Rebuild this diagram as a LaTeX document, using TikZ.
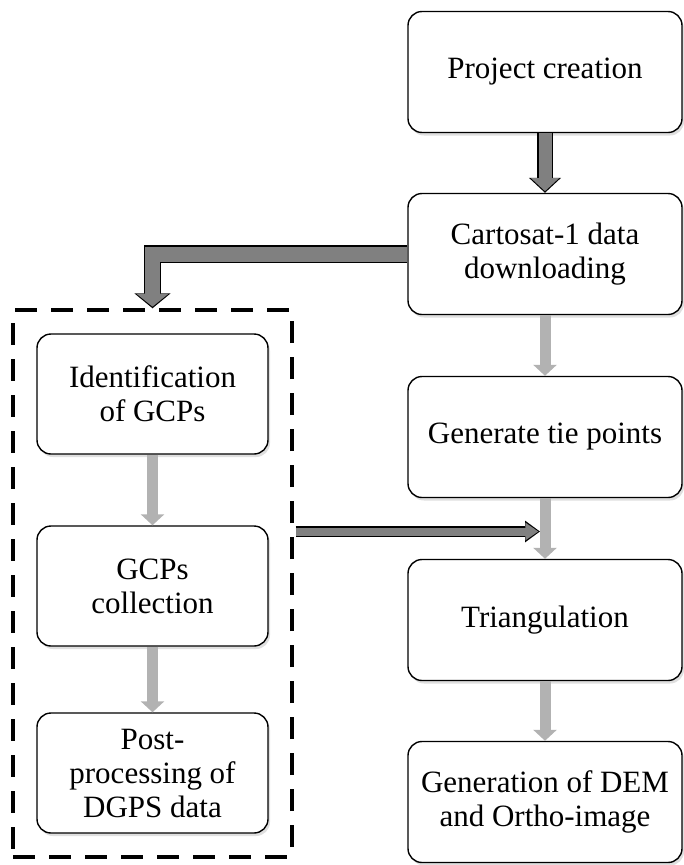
\documentclass[tikz,border=0pt]{standalone}
\usepackage{fontspec}
\setmainfont{Liberation Serif}
\usetikzlibrary{shapes,arrows.meta,calc,positioning,fit,shadows}

\tikzset{
    box/.style={draw, line width=1.4pt, rounded corners=14pt, fill=white, align=center,
        font=\fontsize{31}{34}\selectfont,
        drop shadow={opacity=0.25, shadow xshift=2pt, shadow yshift=-3pt}},
    wide/.style={box, minimum width=274pt, minimum height=121pt},
    narrow/.style={box, minimum width=231pt, minimum height=120pt},
    flow/.style={draw=gray!60, line width=11pt, -{Triangle[length=11pt,width=23pt]}},
    bold/.style={draw=gray, line width=#1, line join=miter, shorten >=1.6pt,
        -{Triangle[length=13pt,width=2.1*#1]},
        preaction={draw=black, line width=#1+2.4pt, shorten >=0pt,
        -{Triangle[length=15pt,width=2.1*#1+4pt]}}}
}

\begin{document}
\begin{tikzpicture}[x=1pt, y=-1pt]
    \useasboundingbox (0,0) rectangle (684,865);

    % right column
    \draw (545,72) node[wide] (proj) {Project creation};
    \draw (545,254) node[wide] (carto) {Cartosat-1 data\\downloading};
    \draw (545,437) node[wide] (tie) {Generate tie points};
    \draw (545,620) node[wide] (tri) {Triangulation};
    \draw (545,802) node[wide] (dem) {Generation of DEM\\and Ortho-image};

    % field work
    \draw (152.5,394) node[narrow] (ident) {Identification\\of GCPs};
    \draw (152.5,586) node[narrow] (gcp) {GCPs\\collection};
    \draw (152.5,773) node[narrow] (post) {Post-\\processing of\\DGPS data};
    \node[draw, line width=4pt, dash pattern=on 22pt off 14pt, inner xsep=23pt,
        inner ysep=23pt, fit=(ident)(post)] (field) {};

    \coordinate (hstart) at ($(field.east)+(2pt,52pt)$);
    \coordinate (hend) at ([xshift=-5pt]tie.south |- hstart);

    \path
        (carto) edge[flow] (tie)
        (tie) edge[flow] (tri)
        (tri) edge[flow] (dem)
        (ident) edge[flow] (gcp)
        (gcp) edge[flow] (post);
    \draw[bold=13pt] (proj) -- (carto);
    \draw[bold=15pt] (carto.west) -| (field.north);
    \draw[bold=8pt] (hstart) -- (hend);
\end{tikzpicture}
\end{document}
